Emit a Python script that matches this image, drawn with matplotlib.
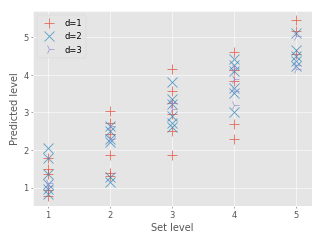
import matplotlib
matplotlib.use("Agg")
import matplotlib.pyplot as plt

plt.style.use("ggplot")
plt.rcParams["font.size"] = 12
plt.rcParams["axes.labelsize"] = 14

# predicted level per set level, for each d
d1_x = [1, 1, 1, 1, 1, 2, 2, 2, 2, 2, 2, 3, 3, 3, 3, 3, 3, 4, 4, 4, 4, 4, 5, 5, 5]
d1_y = [1.80, 1.50, 1.37, 0.93, 0.78,
        3.04, 2.73, 2.42, 1.86, 1.38, 1.31,
        4.16, 3.58, 3.26, 2.95, 2.50, 1.88,
        4.60, 4.14, 3.83, 2.68, 2.28,
        5.47, 5.16, 4.54]

d2_x = [1, 1, 1, 1, 1, 1, 2, 2, 2, 2, 2, 2, 3, 3, 3, 3, 3, 3, 4, 4, 4, 4, 4, 4, 5, 5, 5, 5, 5]
d2_y = [2.06, 1.79, 1.35, 1.10, 0.96, 0.82,
        2.65, 2.50, 2.30, 2.20, 1.27, 1.15,
        3.81, 3.35, 3.21, 2.90, 2.73, 2.60,
        4.41, 4.27, 4.10, 3.65, 3.52, 3.01,
        5.12, 4.67, 4.51, 4.36, 4.23]

d3_x = [1, 1, 2, 2, 3, 3, 4, 4, 4, 4, 5, 5, 5]
d3_y = [1.13, 1.05,
        2.64, 2.28,
        3.25, 3.10,
        4.19, 3.88, 3.57, 3.19,
        5.03, 4.27, 4.15]

fig, ax = plt.subplots(figsize=(6.4, 4.8), dpi=50.5)

ax.plot(d1_x, d1_y, "+", color="#E24A33", markersize=13, mew=1.2, alpha=0.8, label="d=1")
ax.plot(d2_x, d2_y, "x", color="#348ABD", markersize=13, mew=1.2, alpha=0.8, label="d=2")
ax.plot(d3_x, d3_y, "4", color="#988ED5", markersize=13, mew=1.2, alpha=0.8, label="d=3")

ax.set_xlim(0.76, 5.26)
ax.set_ylim(0.52, 5.69)
ax.set_xticks([1, 2, 3, 4, 5])
ax.set_yticks([1, 2, 3, 4, 5])
ax.set_xlabel("Set level")
ax.set_ylabel("Predicted level")
ax.legend(loc="upper left")

fig.subplots_adjust(left=0.103, right=0.965, top=0.952, bottom=0.15)
fig.savefig("out.png")
